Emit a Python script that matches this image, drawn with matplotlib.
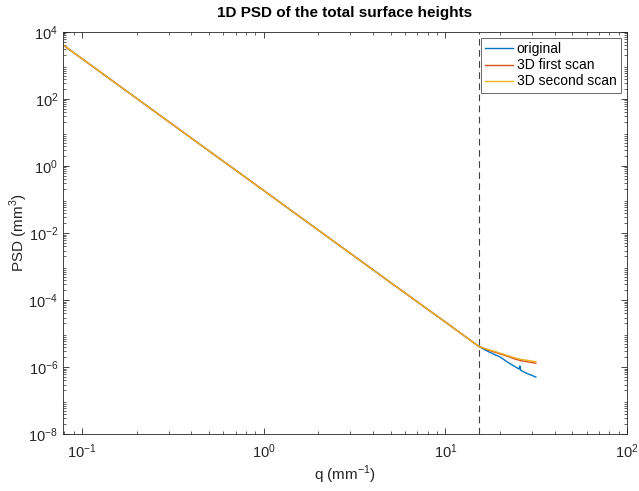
import matplotlib
matplotlib.use("Agg")
import matplotlib.pyplot as plt
from matplotlib.ticker import LogLocator, NullFormatter

plt.rcParams['font.family'] = ['Liberation Sans', 'DejaVu Sans']
plt.rcParams['mathtext.fontset'] = 'custom'
plt.rcParams['mathtext.rm'] = 'Liberation Sans'

# wavenumber (1/mm), values
q = [0.0785, 0.2, 0.5, 1, 2, 5, 10, 15.3, 17, 19, 20, 22, 24, 25.5, 25.7, 26, 28, 30, 31.5]

psd_original = [4.1e3, 1.03e2, 2.8, 0.185, 1.21e-2, 3.3e-4, 2.2e-5,
                4.1e-6, 3.0e-6, 2.25e-6, 2.0e-6, 1.4e-6, 1.05e-6, 8.7e-7, 1.07e-6,
                8.0e-7, 6.5e-7, 5.6e-7, 5.0e-7]
psd_first = [4.1e3, 1.03e2, 2.8, 0.185, 1.21e-2, 3.3e-4, 2.2e-5,
             4.1e-6, 3.3e-6, 2.7e-6, 2.45e-6, 2.1e-6, 1.75e-6, 1.6e-6, 1.58e-6,
             1.55e-6, 1.45e-6, 1.35e-6, 1.3e-6]
psd_second = [4.1e3, 1.03e2, 2.8, 0.185, 1.21e-2, 3.3e-4, 2.2e-5,
              4.1e-6, 3.4e-6, 2.85e-6, 2.6e-6, 2.2e-6, 1.9e-6, 1.75e-6, 1.72e-6,
              1.7e-6, 1.6e-6, 1.5e-6, 1.45e-6]

q_cut = 15.3

labels = ["original", "3D first scan", "3D second scan"]
colors = ["#0072BD", "#D95319", "#EDB120"]

fig = plt.figure(figsize=(6.39, 4.91), dpi=100)
ax = fig.add_axes([0.0986, 0.116, 0.8826, 0.819])

for ys, lab, col in zip([psd_original, psd_first, psd_second], labels, colors):
    ax.loglog(q, ys, color=col, linewidth=1.0, label=lab)

ax.axvline(q_cut, color="#404040", linestyle=(0, (6, 4)), linewidth=0.8)

ax.set_xlim(0.0785, 100)
ax.set_ylim(1e-8, 1e4)

ax.yaxis.set_minor_locator(LogLocator(base=10, subs=range(2, 10), numticks=30))
ax.set_yticks([1e4, 1e2, 1e0, 1e-2, 1e-4, 1e-6, 1e-8])
ax.yaxis.set_minor_formatter(NullFormatter())
ax.xaxis.set_minor_formatter(NullFormatter())

ax.tick_params(which='both', direction='in', top=True, right=True, colors='#262626',
               labelsize=10.5, labelcolor='#262626')
ax.tick_params(which='major', length=4, width=0.6)
ax.tick_params(which='minor', length=2.5, width=0.5)
ax.tick_params(axis='x', which='major', pad=6)
for sp in ax.spines.values():
    sp.set_color('#262626')
    sp.set_linewidth(0.6)

ax.set_xlabel(r"q (mm$^{-1}$)", fontsize=11, color='#262626', labelpad=2)
ax.set_ylabel(r"PSD (mm$^{3}$)", fontsize=11, color='#262626')
ax.yaxis.set_label_coords(-0.058, 0.5)
ax.set_title("1D PSD of the total surface heights", fontsize=11, fontweight='bold', pad=11)

leg = ax.legend(loc='upper right', fontsize=10, frameon=True, fancybox=False,
                handlelength=2.0, handletextpad=0.3, borderaxespad=0.45,
                borderpad=0.3, labelspacing=0.15)
leg.get_frame().set_edgecolor('#262626')
leg.get_frame().set_linewidth(0.6)

fig.savefig("out.png", dpi=100)
